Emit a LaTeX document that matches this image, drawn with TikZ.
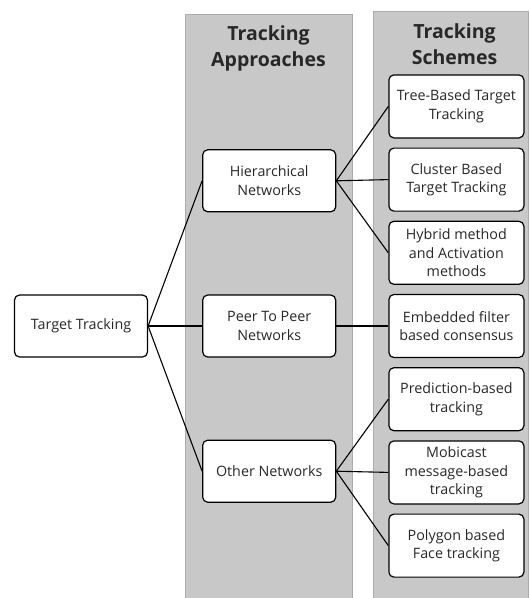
\documentclass[tikz,border=0pt]{standalone}
\usepackage{fontspec}
\setmainfont{Open Sans}
\usepackage{tikz}
\usetikzlibrary{positioning}

\definecolor{laneGray}{RGB}{200,200,200}
\definecolor{laneEdge}{RGB}{172,172,172}
\definecolor{inkGray}{RGB}{40,40,40}

\begin{document}
\begin{tikzpicture}[
        x=1pt, y=1pt,
        node distance = 82pt and 53pt,
        block/.style = {rectangle, draw, fill=white, line width=1.2pt, rounded corners=5pt, align=center, minimum width=133pt, minimum height=62pt, inner sep=1pt, text=inkGray, font=\fontsize{14.3}{18.5}\selectfont},
        scheme/.style = {block, minimum width=135pt, minimum height=63pt},
        header/.style = {align=center, text=inkGray, font=\fontsize{19.5}{26}\selectfont\bfseries},
        lane/.style = {fill=laneGray, draw=laneEdge, line width=0.6pt},
        link/.style = {line width=1.1pt}
    ]
        \useasboundingbox (0,0) rectangle (530,-598);

        % Grey lanes behind columns 2 and 3
        \draw [lane] (185,-600) rectangle (352,-14);
        \draw [lane] (373,-600) rectangle (528,-11);

        % Column 1: root
        \node [block] (Target) at (81,-326) {Target Tracking};

        % Column 2: approaches
        \node [block, right=54pt of Target] (PeerNet) {Peer To Peer\\Networks};
        \node [block, above=of PeerNet] (HierNet) {Hierarchical\\Networks};
        \node [block, below=of PeerNet] (OtherNet) {Other Networks};

        % Column 3: schemes, stacked from the consensus box
        \node [scheme, right=52pt of PeerNet] (FilterCons) {Embedded filter\\based consensus};
        \node [scheme, above=9pt of FilterCons] (HybridTrack) {Hybrid method\\and Activation\\methods};
        \node [scheme, above=9pt of HybridTrack] (ClusterTrack) {Cluster Based\\Target Tracking};
        \node [scheme, above=9pt of ClusterTrack] (TreeTrack) {Tree-Based Target\\Tracking};
        \node [scheme, below=9pt of FilterCons] (PredTrack) {Prediction-based\\tracking};
        \node [scheme, below=9pt of PredTrack] (MobiTrack) {Mobicast\\message-based\\tracking};
        \node [scheme, below=9pt of MobiTrack] (PolyTrack) {Polygon based\\Face tracking};

        % Column headers
        \node [header] (ApproachHead) at (268.5,-48) {Tracking\\Approaches};
        \node [header] (SchemeHead) at (454.5,-44) {Tracking\\Schemes};

        % Connections
        \draw [link] (Target.east) -- (HierNet.west);
        \draw [link] (Target.east) -- (PeerNet.west);
        \draw [link] (Target.east) -- (OtherNet.west);

        \draw [link] (HierNet.east) -- (TreeTrack.west);
        \draw [link] (HierNet.east) -- (ClusterTrack.west);
        \draw [link] (HierNet.east) -- (HybridTrack.west);

        \draw [link] (PeerNet.east) -- (FilterCons.west);

        \draw [link] (OtherNet.east) -- (PredTrack.west);
        \draw [link] (OtherNet.east) -- (MobiTrack.west);
        \draw [link] (OtherNet.east) -- (PolyTrack.west);

    \end{tikzpicture}
\end{document}
